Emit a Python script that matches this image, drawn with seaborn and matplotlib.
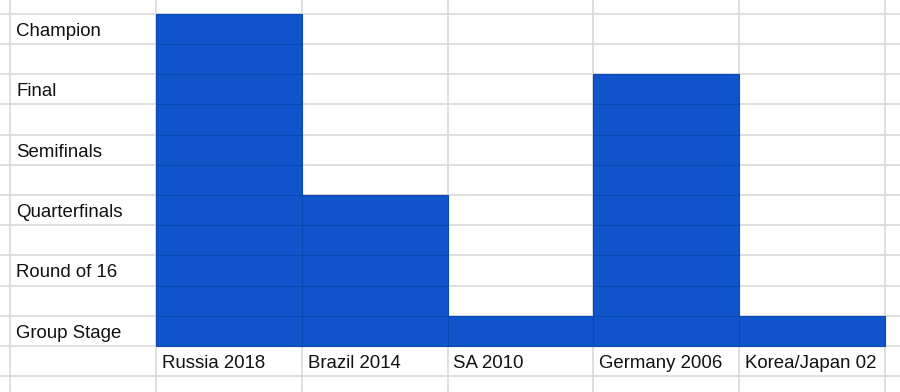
import matplotlib
matplotlib.use("Agg")
import matplotlib.pyplot as plt
import seaborn as sns
import pandas as pd

# ---- data ----
stages = ["Group Stage", "Round of 16", "Quarterfinals", "Semifinals", "Final", "Champion"]
tournaments = ["Russia 2018", "Brazil 2014", "SA 2010", "Germany 2006", "Korea/Japan 02"]
results = ["Champion", "Quarterfinals", "Group Stage", "Final", "Group Stage"]
# each stage occupies the row level: Group Stage=1, Round of 16=3, ... Champion=11
stage_rows = [1, 3, 5, 7, 9, 11]

row_of = dict(zip(stages, stage_rows))
df = pd.DataFrame({"tournament": tournaments,
                   "rows": [row_of[r] for r in results]})

sns.set_theme(style="white")
plt.rcParams["font.family"] = ["Liberation Sans", "DejaVu Sans"]

fig = plt.figure(figsize=(9, 3.92), dpi=100)
ax = fig.add_axes([0, 0, 1, 1])

BAR = "#1155cc"
INNER = "#0c48b3"
GRID = "#d6d6d6"

# spreadsheet grid
for y in range(-1, 12):
    ax.axhline(y, color=GRID, lw=1.1, zorder=0)
for x in [-1.5 + i for i in range(7)]:
    ax.axvline(x, color=GRID, lw=1.1, zorder=0)

sns.barplot(data=df, x="tournament", y="rows", color=BAR, width=1.0,
            saturation=1, edgecolor=INNER, linewidth=0.8, ax=ax, zorder=2)

# darker cell lines inside the bars
for patch in ax.patches:
    x0 = patch.get_x()
    w = patch.get_width()
    h = int(round(patch.get_height()))
    if h > 1:
        ax.hlines(range(1, h), x0, x0 + w, color=INNER, lw=0.8, zorder=3)

# row labels (left column)
for s, r in zip(stages, stage_rows):
    ax.text(-1.5 + 0.04, r - 0.58, s, ha="left", va="center",
            fontsize=13.4, color="#111111", zorder=4)

# category labels (bottom row)
for i, t in enumerate(tournaments):
    ax.text(i - 0.5 + 0.04, -0.58, t, ha="left", va="center",
            fontsize=13.4, color="#111111", zorder=4)

ax.set_xlim(-1.572, 4.605)
ax.set_ylim(-1.523, 11.457)
ax.axis("off")

fig.savefig("out.png", dpi=100)
